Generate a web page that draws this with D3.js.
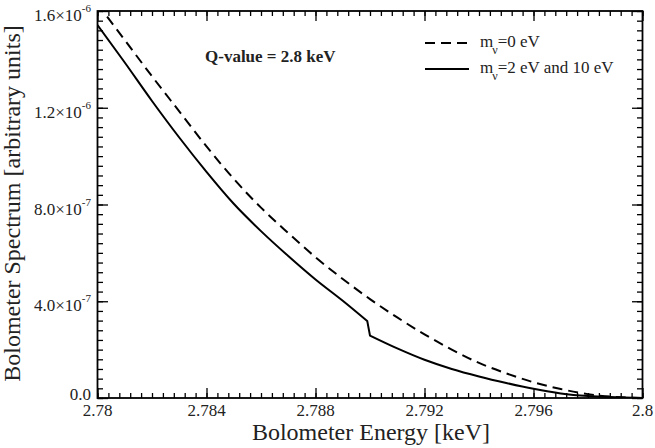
<!DOCTYPE html>
<html>
<head>
<meta charset="utf-8">
<script src="https://cdn.jsdelivr.net/npm/d3@7"></script>
<style>
  html, body { margin: 0; padding: 0; background: #fff; }
  svg { display: block; }
  svg text { font-family: "Liberation Serif", "Times New Roman", Tinos, Times, serif; }
</style>
</head>
<body>
<svg id="chart" width="655" height="448"></svg>
<script>
// energy grid, keV
const energyMassless = [2.780, 2.781, 2.782, 2.783, 2.784, 2.785, 2.786, 2.787, 2.788, 2.789,
  2.790, 2.791, 2.792, 2.793, 2.794, 2.795, 2.796, 2.797, 2.798, 2.799, 2.800];
// m_nu = 0 eV spectrum (dashed)
const specMassless = [1.63e-6, 1.48e-6, 1.33e-6, 1.185e-6, 1.04e-6, 0.906e-6, 0.787e-6, 0.682e-6,
  0.582e-6, 0.492e-6, 0.409e-6, 0.333e-6, 0.263e-6, 0.200e-6, 0.145e-6, 0.102e-6, 0.065e-6,
  0.037e-6, 0.016e-6, 0.004e-6, 0];

const energyMassive = [2.780, 2.781, 2.782, 2.783, 2.784, 2.785, 2.786, 2.787, 2.788, 2.789,
  2.7899, 2.7900, 2.791, 2.792, 2.793, 2.794, 2.795, 2.796, 2.797, 2.798, 2.799, 2.800];
// m_nu = 2 eV and 10 eV spectrum (solid), with the step at 2.790 keV
const specMassive = [1.542e-6, 1.387e-6, 1.228e-6, 1.077e-6, 0.935e-6, 0.803e-6, 0.690e-6, 0.587e-6,
  0.490e-6, 0.402e-6, 0.318e-6, 0.258e-6, 0.205e-6, 0.158e-6, 0.120e-6,
  0.089e-6, 0.062e-6, 0.038e-6, 0.019e-6, 0.008e-6, 0.003e-6, 0];
const kinkIndex = 10; // last point before the step

const xTicks = [2.78, 2.784, 2.788, 2.792, 2.796, 2.8];
const xTickLabels = ["2.78", "2.784", "2.788", "2.792", "2.796", "2.8"];
const yTicks = [0, 4e-7, 8e-7, 1.2e-6, 1.6e-6];
const yTickMant = ["0.0", "4.0", "8.0", "1.2", "1.6"];
const yTickExp = [null, "-7", "-7", "-6", "-6"];

const width = 655;
const height = 448;
const margin = { top: 11, right: 12.5, bottom: 50, left: 97.5 };

const svg = d3.select("#chart");

const x = d3.scaleLinear()
  .domain([2.78, 2.8])
  .range([margin.left, width - margin.right]);

const y = d3.scaleLinear()
  .domain([0, 1.6e-6])
  .range([height - margin.bottom, margin.top]);

const xMinor = d3.range(0, 51).map(i => 2.78 + i * 0.0004);
const yMinor = d3.range(0, 41).map(i => i * 4e-8);

svg.append("clipPath").attr("id", "plotClip")
  .append("rect")
  .attr("x", x(2.78)).attr("y", y(1.6e-6))
  .attr("width", x(2.8) - x(2.78))
  .attr("height", y(0) - y(1.6e-6));

// ticks, inward on all four sides
function tickLines(axis, vals, size) {
  return g => g.call(axis.tickValues(vals).tickSize(size).tickFormat(""))
    .call(g => g.select(".domain").remove())
    .call(g => g.selectAll("line").attr("stroke", "#000").attr("stroke-width", 1.3));
}

const yb = y(0), yt = y(1.6e-6), xl = x(2.78), xr = x(2.8);

svg.append("g").attr("transform", `translate(0,${yb})`).call(tickLines(d3.axisBottom(x), xMinor, -5));
svg.append("g").attr("transform", `translate(0,${yb})`).call(tickLines(d3.axisBottom(x), xTicks, -10));
svg.append("g").attr("transform", `translate(0,${yt})`).call(tickLines(d3.axisTop(x), xMinor, -5));
svg.append("g").attr("transform", `translate(0,${yt})`).call(tickLines(d3.axisTop(x), xTicks, -10));
svg.append("g").attr("transform", `translate(${xl},0)`).call(tickLines(d3.axisLeft(y), yMinor, -5.5));
svg.append("g").attr("transform", `translate(${xl},0)`).call(tickLines(d3.axisLeft(y), yTicks, -10.5));
svg.append("g").attr("transform", `translate(${xr},0)`).call(tickLines(d3.axisRight(y), yMinor, -5.5));
svg.append("g").attr("transform", `translate(${xr},0)`).call(tickLines(d3.axisRight(y), yTicks, -10.5));

// frame
svg.append("rect")
  .attr("x", xl).attr("y", yt)
  .attr("width", xr - xl).attr("height", yb - yt)
  .attr("fill", "none").attr("stroke", "#000").attr("stroke-width", 1.8);

// x tick labels
svg.append("g").selectAll("text")
  .data(xTicks)
  .join("text")
  .attr("x", d => x(d))
  .attr("y", yb + 18)
  .attr("text-anchor", "middle")
  .attr("font-size", 17)
  .attr("fill", "#222")
  .text((d, i) => xTickLabels[i]);

// y tick labels with powers of ten
const yLab = svg.append("g").selectAll("text")
  .data(yTicks)
  .join("text")
  .attr("x", 91)
  .attr("y", (d, i) => y(d) + (i === 0 ? 2 : 10))
  .attr("text-anchor", "end")
  .attr("font-size", 17)
  .attr("fill", "#222");
yLab.append("tspan").text((d, i) => yTickExp[i] ? yTickMant[i] + "\u00d710" : yTickMant[i]);
yLab.filter((d, i) => yTickExp[i])
  .append("tspan")
  .attr("dy", -9)
  .attr("font-size", 11)
  .text(d => yTickExp[yTicks.indexOf(d)]);

// axis titles
svg.append("text")
  .attr("x", (xl + xr) / 2 + 1)
  .attr("y", 440)
  .attr("text-anchor", "middle")
  .attr("font-size", 24)
  .attr("fill", "#222")
  .text("Bolometer Energy [keV]");

svg.append("text")
  .attr("transform", `translate(20,${(yt + yb) / 2 - 1}) rotate(-90)`)
  .attr("text-anchor", "middle")
  .attr("font-size", 24)
  .attr("fill", "#222")
  .text("Bolometer Spectrum [arbitrary units]");

// curves
const smooth = d3.line()
  .x(d => x(d[0]))
  .y(d => y(d[1]))
  .curve(d3.curveMonotoneX);
const straight = d3.line()
  .x(d => x(d[0]))
  .y(d => y(d[1]));

const plot = svg.append("g").attr("clip-path", "url(#plotClip)")
  .attr("fill", "none")
  .attr("stroke", "#000")
  .attr("stroke-width", 2);

plot.append("path")
  .datum(d3.zip(energyMassless, specMassless))
  .attr("stroke-dasharray", "10,6")
  .attr("d", smooth);

const massive = d3.zip(energyMassive, specMassive);
plot.append("path")
  .attr("stroke-linejoin", "round")
  .attr("d", smooth(massive.slice(0, kinkIndex + 1)) +
    straight(massive.slice(kinkIndex, kinkIndex + 2)).replace(/^M/, "L") +
    smooth(massive.slice(kinkIndex + 1)).replace(/^M/, "L"));

// annotation
svg.append("text")
  .attr("x", 205)
  .attr("y", 62)
  .attr("font-size", 17)
  .attr("font-weight", "bold")
  .attr("fill", "#222")
  .text("Q-value = 2.8 keV");

// legend
const legend = [
  { dash: "10,6", label: "=0 eV", ly: 43 },
  { dash: null, label: "=2 eV and 10 eV", ly: 69 }
];
const lg = svg.append("g");
legend.forEach(l => {
  lg.append("line")
    .attr("x1", 425).attr("x2", 469)
    .attr("y1", l.ly).attr("y2", l.ly)
    .attr("stroke", "#000").attr("stroke-width", 2)
    .attr("stroke-dasharray", l.dash);
  const t = lg.append("text")
    .attr("x", 480).attr("y", l.ly + 4)
    .attr("font-size", 17)
    .attr("fill", "#222");
  t.append("tspan").text("m");
  t.append("tspan").attr("dx", -1).attr("dy", 7).attr("font-size", 12).text("\u03bd");
  t.append("tspan").attr("dx", 0).attr("dy", -7).text(l.label);
});
</script>
</body>
</html>
